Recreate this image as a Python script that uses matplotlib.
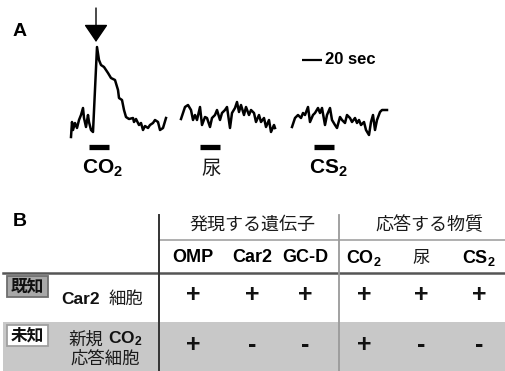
import numpy as np
import matplotlib.pyplot as plt
from matplotlib.patches import Rectangle

plt.rcParams['mathtext.fontset'] = 'custom'
plt.rcParams['mathtext.rm'] = 'Liberation Sans'
plt.rcParams['mathtext.bf'] = 'Liberation Sans:bold'

LAT = 'Liberation Sans'
JP = 'Noto Sans CJK JP'

# ---- panel A: response traces (time in sec from trace start, signal in a.u.)
co2_t = [0, 1, 2, 4, 6, 8, 10, 12, 13, 15, 17, 18, 20, 22, 26, 28, 30, 33, 37, 40,
         44, 47, 48, 51, 53, 55, 58, 62, 63, 65, 68, 70, 72, 74, 77, 79, 82, 84, 87,
         89, 92, 95]
co2_v = [3, 18, 10, 17, 12, 20, 25, 32, 22, 13, 25, 18, 10, 8, 93, 80, 75, 73, 67, 62,
         60, 50, 42, 40, 30, 23, 21, 22, 18, 21, 15, 17, 10, 14, 12, 15, 17, 20, 18,
         10, 12, 22]

urine_t = [0, 4, 7, 10, 12, 14, 16, 19, 21, 24, 26, 29, 31, 34, 36, 39, 41, 44, 46,
           49, 51, 54, 56, 58, 60, 63, 65, 68, 70, 73, 75, 78, 80, 83, 85, 88, 90, 93, 94]
urine_v = [21, 33, 35, 30, 20, 25, 20, 33, 15, 23, 22, 13, 22, 25, 30, 20, 27, 30, 33,
           12, 27, 32, 38, 28, 35, 25, 33, 25, 30, 27, 18, 25, 18, 22, 13, 20, 8, 15, 12]

cs2_t = [0, 3, 6, 9, 11, 13, 16, 18, 21, 23, 26, 28, 30, 33, 35, 38, 40, 43, 45, 48,
         50, 53, 55, 58, 60, 63, 65, 67, 69, 72, 74, 77, 79, 81, 83, 85, 88, 90, 93, 95]
cs2_v = [13, 22, 25, 22, 27, 25, 33, 18, 25, 27, 32, 27, 32, 15, 25, 32, 20, 15, 12, 23,
         20, 17, 25, 22, 18, 22, 17, 20, 15, 18, 10, 5, 18, 25, 10, 20, 28, 30, 30, 30]

stim_labels = [r'$\mathbf{CO_2}$', '尿', r'$\mathbf{CS_2}$']
stim_onset = [18, 19, 22]   # sec after trace start
stim_dur = 20               # sec
scale_sec = 20

# ---- panel B: table
gene_cols = ['OMP', 'Car2', 'GC-D']
subst_cols = [r'$\mathbf{CO_2}$', '尿', r'$\mathbf{CS_2}$']
row_tags = ['既知', '未知']
marks = [['+', '+', '+', '+', '+', '+'],
         ['+', '-', '-', '+', '-', '-']]

fig = plt.figure(figsize=(5.05, 3.71), dpi=100)

# panel A axes: x in sec (1 px = 1 sec), y = signal
axA = fig.add_axes([0, (371 - 185) / 371, 1, 185 / 371])
axA.set_xlim(0, 505)
axA.set_ylim(-45, 140)
axA.axis('off')

starts = [71, 181, 292]
traces = [(co2_t, co2_v), (urine_t, urine_v), (cs2_t, cs2_v)]
for k, (t, v) in enumerate(traces):
    t = np.array(t) + starts[k]
    axA.plot(t, v, color='black', lw=1.8)
    on = starts[k] + stim_onset[k]
    axA.plot([on, on + stim_dur], [-6.5, -6.5], color='black', lw=3.8,
             solid_capstyle='butt')
    if k == 1:
        axA.text(on + stim_dur / 2 + 1, -28, stim_labels[k], fontsize=14,
                 family=JP, ha='center', va='center', color='#1a1a1a')
    else:
        axA.text(on + stim_dur / 2 + 4, -28, stim_labels[k], fontsize=15,
                 ha='center', va='center')

# arrow on the CO2 peak
ipk = int(np.argmax(co2_v))
pk_t = starts[0] + co2_t[ipk] - 1
pk_v = co2_v[ipk]
axA.annotate('', xy=(pk_t, pk_v + 5), xytext=(pk_t, 132),
             arrowprops=dict(arrowstyle='-|>,head_length=1.1,head_width=0.75',
                             color='black', lw=1.0, mutation_scale=10,
                             shrinkA=0, shrinkB=0))

# scale bar
axA.plot([302, 302 + scale_sec], [80, 80], color='black', lw=1.6,
         solid_capstyle='butt')
axA.text(325, 80, f'{scale_sec} sec', family=LAT, weight='bold', fontsize=12,
         ha='left', va='center')
axA.text(13, 109, 'A', family=LAT, weight='bold', fontsize=14, ha='left',
         va='center')

# panel B axes in pixel units
axB = fig.add_axes([0, 0, 1, 1], zorder=-1)
axB.set_xlim(0, 505)
axB.set_ylim(371, 0)
axB.axis('off')

axB.text(13, 221, 'B', family=LAT, weight='bold', fontsize=14, ha='left',
         va='center')

axB.add_patch(Rectangle((3, 322), 502, 49, facecolor='#c8c8c8', edgecolor='none'))
axB.plot([3, 505], [272.5, 272.5], color='#555555', lw=1.8)
axB.plot([159, 505], [240, 240], color='#9a9a9a', lw=1.1)
axB.plot([159, 159], [215, 371], color='#333333', lw=1.4)
axB.plot([339, 339], [215, 371], color='#9a9a9a', lw=1.3)

axB.text(252, 225, '発現する遺伝子', family=JP, fontsize=13, ha='center',
         va='center', color='#1a1a1a')
axB.text(429, 225, '応答する物質', family=JP, fontsize=13, ha='center',
         va='center', color='#1a1a1a')

col_x = [193, 252, 305, 364, 421, 479]
for x, lab in zip(col_x, gene_cols + subst_cols):
    if lab == '尿':
        axB.text(x, 258, lab, family=JP, fontsize=12.5, ha='center', va='center',
                 color='#1a1a1a')
    elif lab.startswith('$'):
        axB.text(x, 258, lab, fontsize=13, ha='center', va='center')
    else:
        axB.text(x, 258, lab, family=LAT, weight='bold', fontsize=13,
                 ha='center', va='center')

# row tags
tag_y = [276, 325]
tag_fc = ['#a8a8a8', 'white']
tag_ec = ['#6e6e6e', '#a0a0a0']
for y, tag, fc, ec in zip(tag_y, row_tags, tag_fc, tag_ec):
    axB.add_patch(Rectangle((7, y), 41, 21, facecolor=fc, edgecolor=ec, lw=1.3))
    axB.text(27.5, y + 10.5, tag, family=JP, weight='bold', fontsize=12,
             ha='center', va='center', color='#111111')

# row labels
axB.text(100, 299, 'Car2', family=LAT, weight='bold', fontsize=12.5, ha='right',
         va='center', color='#111111')
axB.text(126, 299, '細胞', family=JP, fontsize=12.5, ha='center', va='center',
         color='#1a1a1a')
axB.text(86, 340, '新規', family=JP, fontsize=12.5, ha='center', va='center',
         color='#1a1a1a')
axB.text(125, 339, r'$\mathbf{CO_2}$', fontsize=12.5, ha='center', va='center',
         color='#111111')
axB.text(105, 359, '応答細胞', family=JP, fontsize=12.5, ha='center', va='center',
         color='#1a1a1a')

row_y = [295, 345]
for y, row in zip(row_y, marks):
    for x, m in zip(col_x, row):
        axB.text(x, y, m, family=LAT, weight='bold', fontsize=18, ha='center',
                 va='center', color='#111111')

fig.savefig('out.png', dpi=100)
